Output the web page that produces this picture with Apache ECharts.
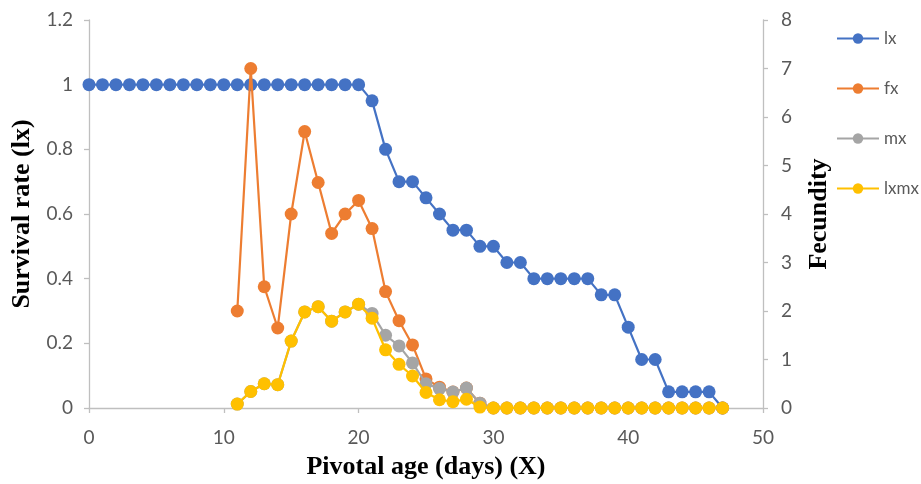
<!DOCTYPE html>
<html>
<head>
<meta charset="utf-8">
<script src="https://cdn.jsdelivr.net/npm/echarts@6/dist/echarts.min.js"></script>
<style>html,body{margin:0;padding:0;background:#fff;}#c{width:921px;height:484px;}</style>
</head>
<body>
<div id="c"></div>
<script>
var ages = [0,1,2,3,4,5,6,7,8,9,10,11,12,13,14,15,16,17,18,19,20,21,22,23,24,25,26,27,28,29,30,31,32,33,34,35,36,37,38,39,40,41,42,43,44,45,46,47];
var lx = [1,1,1,1,1,1,1,1,1,1,1,1,1,1,1,1,1,1,1,1,1,0.95,0.8,0.7,0.7,0.65,0.6,0.55,0.55,0.5,0.5,0.45,0.45,0.4,0.4,0.4,0.4,0.4,0.35,0.35,0.25,0.15,0.15,0.05,0.05,0.05,0.05,0];
var fx = [null,null,null,null,null,null,null,null,null,null,null,2,7,2.5,1.65,4,5.7,4.65,3.6,4,4.28,3.7,2.4,1.8,1.3,0.6,0.43,0.33,0.41,0.1,0,0,0,0,0,0,0,0,0,0,0,0,0,0,0,0,0,0];
var mx = [null,null,null,null,null,null,null,null,null,null,null,0.08,0.34,0.5,0.48,1.38,1.98,2.09,1.79,1.98,2.14,1.95,1.5,1.28,0.93,0.5,0.4,0.33,0.41,0.1,0,0,0,0,0,0,0,0,0,0,0,0,0,0,0,0,0,0];
var lxmx = [null,null,null,null,null,null,null,null,null,null,null,0.08,0.34,0.5,0.48,1.38,1.98,2.09,1.79,1.98,2.14,1.85,1.2,0.9,0.66,0.32,0.17,0.13,0.18,0.02,0,0,0,0,0,0,0,0,0,0,0,0,0,0,0,0,0,0];
var seriesNames = ['lx','fx','mx','lxmx'];
var colors = ['#4472C4','#ED7D31','#A5A5A5','#FFC000'];

function pairs(arr){ return ages.map(function(a,i){ return [a, arr[i]]; }); }

var chart = echarts.init(document.getElementById('c'));
var labelFont = {color:'#595959', fontSize:19, fontFamily:'Lato'};
var nameFont = {color:'#000', fontSize:26, fontWeight:'bold', fontFamily:'Liberation Serif'};
var axisLine = {show:true, lineStyle:{color:'#bfbfbf', width:1.3}};
var axisTick = {show:true, length:5, lineStyle:{color:'#bfbfbf', width:1.3}};

function mk(name, data, idx, yAxis){
  return {
    name:name, type:'line', yAxisIndex:yAxis, data:pairs(data),
    symbol:'circle', symbolSize:13, showSymbol:true,
    lineStyle:{color:colors[idx], width:2.2},
    itemStyle:{color:colors[idx], borderColor:colors[idx], borderWidth:0},
    connectNulls:false, animation:false, z: 2+idx
  };
}

chart.setOption({
  animation:false,
  backgroundColor:'#fff',
  grid:{left:89, right:158, top:20, bottom:76, containLabel:false, outerBoundsMode:'none'},
  legend:{
    orient:'vertical', left:831, top:25, itemWidth:42, itemHeight:13, itemGap:33,
    textStyle:{color:'#595959', fontSize:17, fontFamily:'Lato'},
    data:seriesNames
  },
  xAxis:{
    type:'value', min:0, max:50, interval:10,
    name:'Pivotal age (days) (X)', nameLocation:'middle', nameGap:46, nameTextStyle:nameFont,
    axisLine:axisLine, axisTick:axisTick, splitLine:{show:false},
    axisLabel:Object.assign({margin:20}, labelFont)
  },
  yAxis:[
    {type:'value', min:0, max:1.2, interval:0.2, position:'left',
     name:'Survival rate (lx)', nameLocation:'middle', nameGap:54, nameRotate:90, nameTextStyle:nameFont,
     axisLine:axisLine, axisTick:axisTick, splitLine:{show:false},
     axisLabel:Object.assign({margin:16, formatter:function(v){return String(Math.round(v*10)/10);}}, labelFont)},
    {type:'value', min:0, max:8, interval:1, position:'right',
     name:'Fecundity', nameLocation:'middle', nameGap:43, nameRotate:90, nameTextStyle:nameFont,
     axisLine:axisLine, axisTick:axisTick, splitLine:{show:false},
     axisLabel:Object.assign({margin:18}, labelFont)}
  ],
  series:[
    mk('lx', lx, 0, 0),
    mk('fx', fx, 1, 1),
    mk('mx', mx, 2, 1),
    mk('lxmx', lxmx, 3, 1)
  ]
});
</script>
</body>
</html>
